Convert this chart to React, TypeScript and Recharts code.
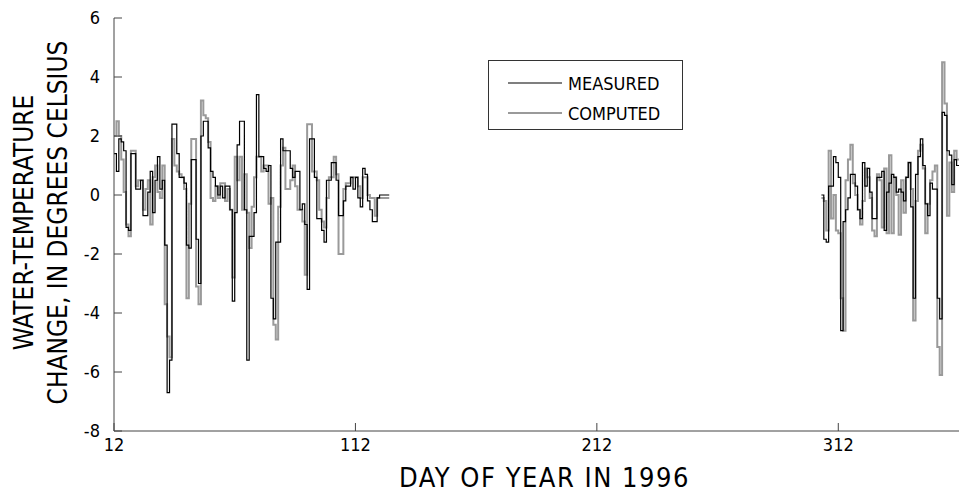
import { LineChart, Line, XAxis, YAxis, Legend } from "recharts";

// Daily water-temperature change, spring and fall runs of 1996
const SPRING_START = 12;
const FALL_START = 305;

const springMeasured = [
  1.4, 0.8, 1.9, 1.8, 1.5, -1.1, -1.2, 1.4, 1.4, 0.2,
  0.2, 0.5, -0.7, -0.7, 0.1, 0.8, -0.6, 0.5, 1.3, 0.2,
  0.5, -1.7, -6.7, -5.6, 2.4, 2.4, 1.4, 0.6, 0.6, 0.4,
  -1.7, -1.8, 1.2, 1.2, -1.5, -3.0, 2.0, 2.5, 2.5, 1.6,
  0.8, 0.6, 0.3, 0.0, 0.3, -0.1, 0.3, 0.3, -0.5, -3.6,
  -0.6, 1.7, 2.5, 2.5, -0.5, -5.6, -1.4, -1.4, -0.6, 3.4,
  1.3, 1.3, 0.9, 0.8, 1.0, -3.5, -4.2, -1.6, -1.6, 1.9,
  1.5, 1.5, 1.5, 0.9, 0.6, 0.8, 0.8, -0.5, -0.3, -1.0,
  -3.2, 1.9, 1.9, 0.6, -0.8, -0.8, -1.2, -1.6, 0.5, 0.5,
  1.1, 1.1, 0.5, -0.7, -0.7, -0.2, 0.3, 0.3, 0.6, 0.2,
  0.6, -0.1, -0.4, 0.9, 0.7, -0.2, -0.5, -0.9, -0.9, -0.1,
  0.0, 0.0, 0.0, 0.0, 0.0,
];

const springComputed = [
  2.0, 2.5, 2.0, 1.2, 0.1, -1.0, -1.4, 1.5, 1.5, 0.3,
  0.5, 0.5, -0.5, 0.2, 0.5, -1.0, 0.6, 1.0, 0.1, -0.1,
  1.0, -3.7, -4.8, -5.5, 1.9, 1.0, 0.8, 0.7, 0.6, 0.2,
  -3.5, -0.3, 1.9, 1.9, -3.1, -3.7, 3.2, 2.7, 2.6, 1.8,
  -0.1, -0.2, 0.3, -0.1, 0.4, 0.4, -0.2, 0.2, -0.5, -2.8,
  1.3, 0.5, 1.3, -0.5, 0.7, -0.6, -1.8, -0.4, 0.6, 1.3,
  1.3, 0.8, 1.0, 1.0, -0.3, -0.1, -4.4, -4.9, -0.4, 1.0,
  1.6, 0.2, 0.2, 0.5, 1.0, 0.3, -0.5, -0.5, -0.9, -2.7,
  2.4, 2.4, 0.8, 0.8, 0.5, -0.5, -0.9, -1.1, -0.1, 0.6,
  0.6, 1.3, 0.7, -2.0, -2.0, 0.2, 0.4, 0.4, 0.6, 0.6,
  0.6, 0.3, -0.1, 0.6, 0.6, 0.0, -0.1, -0.1, -0.7, -0.1,
  -0.1, -0.1, -0.1, -0.1, -0.1,
];

const fallMeasured = [
  0.0, -1.5, -1.6, 0.3, 0.3, 1.3, 1.1, 0.6, -4.6, -0.9,
  -0.5, -0.1, 0.7, 0.7, 0.3, -0.5, -0.8, 1.1, 0.3, 0.9,
  0.1, -0.8, -0.8, 0.6, 0.6, 0.8, -1.2, 0.1, 0.4, 0.7,
  0.6, 0.1, 0.2, 0.1, -0.2, 0.6, 1.1, -0.4, -3.5, 0.7,
  1.3, 1.9, 1.0, -0.3, -0.7, 0.4, 0.2, 0.2, -3.5, -4.2,
  2.8, 2.7, 1.5, 1.35, 0.35, 1.2, 1.0, 1.0,
];

const fallComputed = [
  -0.1, -0.2, -1.2, 1.5, -0.8, 0.0, -1.2, -1.3, -3.5, -4.6,
  0.5, 1.2, 1.7, 0.4, 0.0, -0.5, -1.0, -0.2, 0.9, 0.6,
  -0.1, -1.2, -1.4, 0.7, 0.5, -1.1, 0.9, -1.3, 1.35, -1.3,
  0.6, 0.0, -1.35, 0.5, -0.6, 0.6, 1.1, 0.2, -4.25, -0.2,
  1.5, 1.7, 0.9, -1.3, -0.3, 0.5, 0.8, 1.0, -5.15, -6.1,
  4.5, 3.1, -0.7, 1.1, 0.1, 1.5, 1.2, 1.2,
];

const xTicks = [12, 112, 212, 312];
const topTicks = [112, 212, 312];
const yTicks = [-8, -6, -4, -2, 0, 2, 4, 6];

type Row = { day: number; measured: number | null; computed: number | null };

function buildRows(): Row[] {
  const rows: Row[] = [];
  springMeasured.forEach((m, i) => {
    rows.push({ day: SPRING_START + i, measured: m, computed: springComputed[i] });
  });
  // break between the two record periods
  rows.push({ day: 212, measured: null, computed: null });
  fallMeasured.forEach((m, i) => {
    rows.push({ day: FALL_START + i, measured: m, computed: fallComputed[i] });
  });
  return rows;
}

const data = buildRows();

const FONT = '"DejaVu Sans Condensed", "Liberation Sans Narrow", "Liberation Sans", sans-serif';
const AXIS = "#444";

function YTitle(props: any) {
  const { viewBox } = props;
  const cy = viewBox.y + viewBox.height / 2 - 2;
  return (
    <g fontFamily={FONT} fontSize={26} fill="#000">
      <text x={24} y={cy} textAnchor="middle" dominantBaseline="central" transform={`rotate(-90 24 ${cy})`}>
        WATER-TEMPERATURE
      </text>
      <text x={58} y={cy} textAnchor="middle" dominantBaseline="central" transform={`rotate(-90 58 ${cy})`}>
        CHANGE, IN DEGREES CELSIUS
      </text>
    </g>
  );
}

function XTitle(props: any) {
  const { viewBox } = props;
  const cx = viewBox.x + viewBox.width / 2 + 8;
  return (
    <text x={cx} y={487} textAnchor="middle" fontFamily={FONT} fontSize={27} letterSpacing={1.5} fill="#000">
      DAY OF YEAR IN 1996
    </text>
  );
}

function LegendBox(props: any) {
  const items = (props.payload || []).slice().reverse();
  return (
    <div
      style={{
        border: "1px solid #333",
        width: 195,
        height: 70,
        boxSizing: "border-box",
        padding: "7px 0 0 19px",
        fontFamily: FONT,
        fontSize: 18,
        background: "#fff",
        textAlign: "left",
      }}
    >
      {items.map((it: any) => (
        <div key={it.value} style={{ display: "flex", alignItems: "center", height: 30 }}>
          <svg width={54} height={4} style={{ marginRight: 6 }}>
            <line x1={0} x2={54} y1={2} y2={2} stroke={it.color} strokeWidth={it.value === "COMPUTED" ? 2 : 1.2} />
          </svg>
          <span>{it.value}</span>
        </div>
      ))}
    </div>
  );
}

export default function App() {
  return (
    <div style={{ position: "absolute", left: 0, top: 0, background: "#fff" }}>
      <LineChart width={959} height={493} data={data} margin={{ top: 18, right: 0, bottom: 0, left: 0 }}>
        <XAxis
          dataKey="day"
          type="number"
          domain={[12, 362]}
          ticks={xTicks}
          allowDataOverflow
          height={62}
          tickSize={-8}
          tickMargin={15}
          tick={{ fontFamily: FONT, fontSize: 18, fill: "#000" }}
          stroke={AXIS}
          label={<XTitle />}
        />
        <XAxis
          xAxisId="top"
          orientation="top"
          dataKey="day"
          type="number"
          domain={[12, 362]}
          ticks={topTicks}
          height={0}
          tickSize={-8}
          tick={false}
          stroke={AXIS}
        />
        <YAxis
          type="number"
          domain={[-8, 6]}
          ticks={yTicks}
          width={114}
          tickSize={-8}
          tickMargin={22}
          tick={{ fontFamily: FONT, fontSize: 18, fill: "#000" }}
          stroke={AXIS}
          label={<YTitle />}
        />
        <Legend
          layout="vertical"
          verticalAlign="middle"
          align="center"
          content={<LegendBox />}
          wrapperStyle={{ position: "absolute", left: 488, top: 60, width: 195 }}
        />
        <Line
          name="COMPUTED"
          dataKey="computed"
          type="stepAfter"
          stroke="#9a9a9a"
          strokeWidth={2}
          dot={false}
          connectNulls={false}
          isAnimationActive={false}
        />
        <Line
          name="MEASURED"
          dataKey="measured"
          type="stepAfter"
          stroke="#000"
          strokeWidth={1.2}
          dot={false}
          connectNulls={false}
          isAnimationActive={false}
        />
      </LineChart>
    </div>
  );
}
